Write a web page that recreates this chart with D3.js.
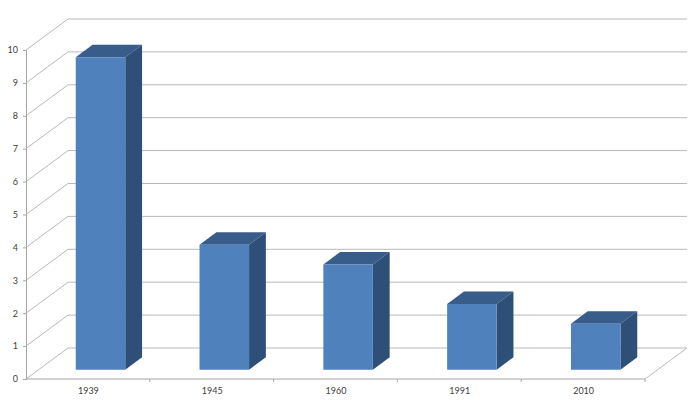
<!DOCTYPE html>
<html>
<head>
<meta charset="utf-8">
<script src="https://cdn.jsdelivr.net/npm/d3@7"></script>
<style>
  body { margin: 0; background: #fff; }
  text { font-family: Lato, "Open Sans", sans-serif; }
</style>
</head>
<body>
<div id="theGraph"></div>
<script>
const categories = ["1939", "1945", "1960", "1991", "2010"];
const values = [9.5, 3.8, 3.2, 2.0, 1.4];
const yTicks = [0, 1, 2, 3, 4, 5, 6, 7, 8, 9, 10];

const width = 696, height = 410,
    front = {left: 26, right: 645, bottom: 379, top: 50},
    depth = {dx: 42, dy: -31},
    barDepth = [0.3, 0.7];

const svg = d3.select("#theGraph").append("svg").attr("width", width).attr("height", height);

const yScale = d3.scaleLinear().domain([0, 10]).range([front.bottom, front.top]);
const xCat = d3.scaleBand().domain(categories).range([front.left, front.right]);
const xBar = d3.scaleBand().domain(categories).range([front.left, front.right]).paddingInner(0.6).paddingOuter(0.3);

// project a floor x / value / depth fraction to screen
function proj(x, v, d) {
    return [x + d * depth.dx, yScale(v) + d * depth.dy];
}

const grid = svg.append("g").attr("stroke", "#b9b9b9").attr("stroke-width", 1).attr("fill", "none");
// back wall gridlines
grid.selectAll(".back").data(yTicks).enter().append("line").attr("class", "back")
    .attr("x1", d => proj(front.left, d, 1)[0]).attr("y1", d => proj(front.left, d, 1)[1])
    .attr("x2", d => proj(front.right, d, 1)[0]).attr("y2", d => proj(front.right, d, 1)[1]);
// side wall diagonals
grid.selectAll(".side").data(yTicks).enter().append("line").attr("class", "side")
    .attr("x1", d => proj(front.left, d, 0)[0]).attr("y1", d => proj(front.left, d, 0)[1])
    .attr("x2", d => proj(front.left, d, 1)[0]).attr("y2", d => proj(front.left, d, 1)[1]);
// floor right edge
grid.append("line")
    .attr("x1", proj(front.right, 0, 0)[0]).attr("y1", proj(front.right, 0, 0)[1])
    .attr("x2", proj(front.right, 0, 1)[0]).attr("y2", proj(front.right, 0, 1)[1]);

// y axis
const yAxis = svg.append("g").attr("transform", `translate(${front.left},0)`)
    .call(d3.axisLeft(yScale).tickValues(yTicks).tickSize(3).tickPadding(5).tickFormat(d3.format("d")));
yAxis.select(".domain").attr("stroke", "#a6a6a6");
yAxis.selectAll(".tick line").attr("stroke", "#a6a6a6");
yAxis.selectAll("text").attr("font-size", 9).attr("fill", "#404040");

// x axis: labels at band centers, ticks at band boundaries
const xAxis = svg.append("g").attr("transform", `translate(0,${front.bottom})`)
    .call(d3.axisBottom(d3.scalePoint().domain(categories).range([xCat(categories[0]) + xCat.bandwidth() / 2, xCat(categories[4]) + xCat.bandwidth() / 2]))
        .tickSize(0).tickPadding(9));
xAxis.select(".domain").attr("stroke", "#a6a6a6").attr("d", `M${front.left},0H${front.right}`);
xAxis.selectAll("text").attr("font-size", 9).attr("fill", "#404040");
xAxis.selectAll(".bound").data(categories.slice(1).concat(["end"])).enter().append("line").attr("class", "bound")
    .attr("x1", d => d === "end" ? front.right : xCat(d)).attr("x2", d => d === "end" ? front.right : xCat(d))
    .attr("y1", 0).attr("y2", 3).attr("stroke", "#a6a6a6");

// bars
const bars = svg.selectAll(".bar").data(categories.map((c, i) => ({c: c, v: values[i]}))).enter()
    .append("g").attr("class", "bar");
const poly = pts => "M" + pts.map(p => p.join(",")).join("L") + "Z";
bars.append("path").attr("fill", "#385d8a")   // top
    .attr("d", d => {
        const x0 = xBar(d.c), x1 = x0 + xBar.bandwidth();
        return poly([proj(x0, d.v, barDepth[0]), proj(x1, d.v, barDepth[0]), proj(x1, d.v, barDepth[1]), proj(x0, d.v, barDepth[1])]);
    });
bars.append("path").attr("fill", "#2e5078")   // right side
    .attr("d", d => {
        const x1 = xBar(d.c) + xBar.bandwidth();
        return poly([proj(x1, 0, barDepth[0]), proj(x1, d.v, barDepth[0]), proj(x1, d.v, barDepth[1]), proj(x1, 0, barDepth[1])]);
    });
bars.append("path").attr("fill", "#4f81bd")   // front
    .attr("d", d => {
        const x0 = xBar(d.c), x1 = x0 + xBar.bandwidth();
        return poly([proj(x0, 0, barDepth[0]), proj(x1, 0, barDepth[0]), proj(x1, d.v, barDepth[0]), proj(x0, d.v, barDepth[0])]);
    });
</script>
</body>
</html>
